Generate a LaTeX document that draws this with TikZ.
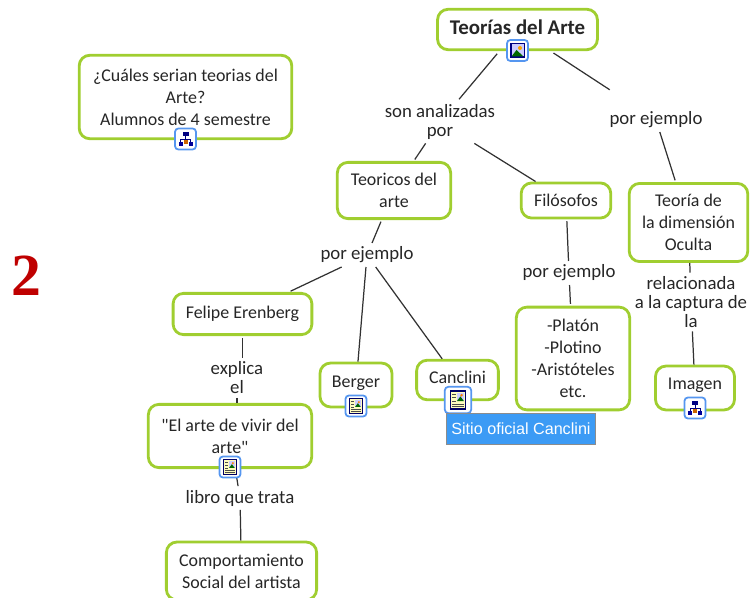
\documentclass[tikz,border=0pt]{standalone}
\usepackage{fontspec}
\setmainfont{Carlito}
\newfontfamily\quotefont{Carlito}
\newfontfamily\tipfont{Liberation Sans}
\newfontfamily\numfont{Liberation Serif}
\usepackage{tikz}

\definecolor{conceptgreen}{RGB}{160,206,48}
\definecolor{linkgray}{RGB}{50,50,50}
\definecolor{iconblue}{RGB}{85,150,240}
\definecolor{tipblue}{RGB}{60,155,245}

\tikzset{
  concept/.style={draw=conceptgreen, line width=1.6pt, rounded corners=6pt, fill=white, inner sep=0pt, align=center, text=black!85, font=\fontsize{10.2}{12.6}\selectfont},
  linklabel/.style={align=center, inner sep=2pt, text=black!85, font=\fontsize{10.7}{10.8}\selectfont},
  link/.style={draw=linkgray, line width=.7pt},
  iconframe/.style={draw=iconblue, line width=1pt, rounded corners=2pt, fill=white, minimum size=#1, inner sep=0pt},
  iconframe/.default=12pt
}

% icons
\newcommand{\picicon}[1]{
\begin{scope}[shift={(#1)}]
\fill [blue!50!black] (-7.5,-7.5) rectangle (7.5,7.5);
\fill [blue!20!white] (-6,-6) rectangle (6,6);
\fill [orange!70!yellow] (2.5,-2.5) circle (2);
\fill [green!40!black] (-6,6) -- (-1,-.5) -- (6,6) -- cycle;
\end{scope}
}
\newcommand{\mapicon}[1]{
\begin{scope}[shift={(#1)}]
\draw [blue!50!black, line width=.5pt] (0,-4) -- (0,0) (-5,5) -- (-5,0) -- (5,0) -- (5,5) (0,0) -- (0,5);
\fill [blue!50!black] (-3,-7) rectangle (3,-3);
\fill [blue!60!black] (-7,3) rectangle (-3,7);
\fill [orange!80!black] (-2,1) rectangle (2,5);
\fill [blue!60!black] (3,3) rectangle (7,7);
\end{scope}
}
\newcommand{\bookicon}[2]{
\begin{scope}[shift={(#1)}, scale=#2]
\fill [blue!40!black] (-7,-8) rectangle (7,8);
\fill [yellow!25!white] (-6,-7) rectangle (6,7);
\fill [blue!20!white] (-1,-6) rectangle (5,1);
\fill [green!40!black] (-1,1) -- (2,-3) -- (5,1) -- cycle;
\fill [orange] (3,-4) circle (1.2);
\draw [black!70, line width=.4pt] (-5,-5) -- (-2,-5) (-5,-2) -- (-2,-2) (-5,1) -- (-2,1) (-5,3.5) -- (5,3.5) (-5,5.5) -- (5,5.5);
\end{scope}
}

\begin{document}
\begin{tikzpicture}[x=.02cm, y=-.02cm]
\useasboundingbox (0,0) rectangle (752,598);

\node [text=red!75!black, font=\numfont\fontsize{34}{34}\selectfont\bfseries] (numero) at (26,276) {2};

% concepts
\node [concept, minimum width=91pt, minimum height=23pt, text depth=2.5pt, font=\fontsize{11.9}{12.6}\selectfont\bfseries] (teorias) at (517.5,29.5) {Teorías del Arte};
\node [concept, minimum width=121pt, minimum height=47.5pt] (cuales) at (185.5,97) {¿Cuáles serian teorias del\\Arte?\\Alumnos de 4 semestre};
\node [concept, minimum width=64.5pt, minimum height=32pt] (teoricos) at (394,190.5) {Teoricos del\\arte};
\node [concept, minimum width=51pt, minimum height=20pt] (filosofos) at (566,200.5) {Filósofos};
\node [concept, minimum width=67.5pt, minimum height=44.5pt] (dimension) at (688.5,222.5) {Teoría de\\la dimensión\\Oculta};
\node [concept, minimum width=79pt, minimum height=23.5pt] (felipe) at (242.5,314) {Felipe Erenberg};
\node [concept, minimum width=41pt, minimum height=25pt, text depth=4pt] (berger) at (356,385) {Berger};
\node [concept, minimum width=46.5pt, minimum height=22.5pt, text depth=3pt] (canclini) at (457.5,380) {Canclini};
\node [concept, minimum width=64.5pt, minimum height=58.5pt] (platon) at (573,358.5) {-Platón\\-Plotino\\-Aristóteles\\etc.};
\node [concept, minimum width=45pt, minimum height=25pt, text depth=5pt] (imagen) at (695,388) {Imagen};
\node [concept, minimum width=93pt, minimum height=36pt] (vivir) at (230,436) {{\quotefont"}El arte de vivir del\\arte{\quotefont"}};
\node [concept, minimum width=85.5pt, minimum height=33pt] (comportamiento) at (241.5,571) {Comportamiento\\Social del artista};

% link labels
\node [linklabel] (analizadas) at (440,122) {son analizadas\\por};
\node [linklabel] (ejemploa) at (656,120) {por ejemplo};
\node [linklabel] (ejemplob) at (367,255) {por ejemplo};
\node [linklabel] (ejemploc) at (569,273) {por ejemplo};
\node [linklabel] (relacionada) at (691,302) {relacionada\\a la captura de\\la};
\node [linklabel] (explica) at (237,378) {explica\\el};
\node [linklabel] (libro) at (240,498) {libro que trata};

% connectors
\draw [link, shorten <=2pt, shorten >=1pt] (teorias) -- (analizadas);
\draw [link, shorten <=2pt, shorten >=19pt] (teorias) -- (ejemploa);
\draw [link, shorten >=1pt] (analizadas) -- (teoricos);
\draw [link] (analizadas) -- (filosofos);
\draw [link, shorten >=1pt] (ejemploa) -- (dimension);
\draw [link, shorten <=1pt] (teoricos) -- (ejemplob);
\draw [link, shorten >=1pt] (ejemplob) -- (felipe);
\draw [link] (ejemplob) -- (berger);
\draw [link] (ejemplob) -- (canclini);
\draw [link, shorten <=1pt] (filosofos) -- (ejemploc);
\draw [link, shorten >=1pt] (ejemploc) -- (platon);
\draw [link] (dimension) -- (relacionada);
\draw [link] (relacionada) -- (imagen);
\draw [link, shorten <=1pt] (felipe.south) -- (felipe.south |- explica.north);
\draw [link] (explica.south) -- (explica.south |- vivir.north);
\draw [link] (vivir) -- (libro);
\draw [link] (libro) -- (comportamiento);

% icons
\node [iconframe] (iconteorias) at (517.5,50.5) {};
\picicon{517.5,50.5}
\node [iconframe] (iconcuales) at (185.5,139) {};
\mapicon{185.5,139}
\node [iconframe] (iconberger) at (356,406) {};
\bookicon{356,406}{.95}
\node [iconframe=15pt] (iconcanclini) at (458,400) {};
\bookicon{458,400}{1.2}
\node [iconframe] (iconvivir) at (230,467) {};
\bookicon{230,467}{.95}
\node [iconframe] (iconimagen) at (695,408) {};
\mapicon{695,408}

\node [draw=black!45, fill=tipblue, text=white, minimum width=85pt, minimum height=17.5pt, inner sep=0pt, font=\tipfont\fontsize{9.2}{10}\selectfont] (sitio) at (521,429) {Sitio oficial Canclini};

\end{tikzpicture}
\end{document}
